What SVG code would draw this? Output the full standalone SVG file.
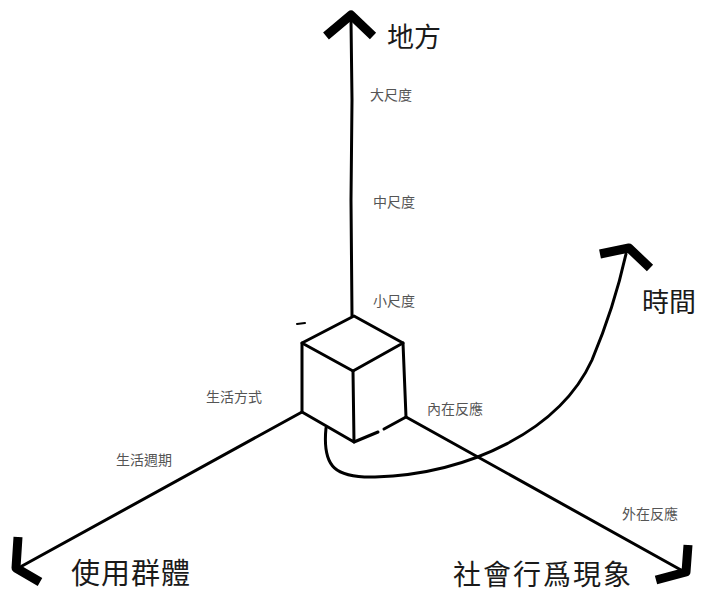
<svg xmlns="http://www.w3.org/2000/svg" width="704" height="599" viewBox="0 0 704 599">
<style>
.ax{fill:none;stroke:#000;stroke-width:3;stroke-linecap:round;stroke-linejoin:round}
.head{fill:none;stroke:#000;stroke-width:9;stroke-linecap:butt;stroke-linejoin:round}
.big{font-family:"Noto Sans CJK TC","Noto Sans CJK SC",sans-serif;font-size:26px;fill:#1a1a1a}
.small{font-family:"Noto Sans CJK TC","Noto Sans CJK SC",sans-serif;font-size:14px;fill:#555}
</style>
<rect width="704" height="599" fill="#fff"/>
<g id="connectors">
<path class="ax" d="M352 316 L351 200 L352 100 L351 20"/>
<path class="head" d="M326 36 L351 15 L373 36"/>
<path class="ax" d="M302 412 L22 566"/>
<path class="head" d="M18 537 L16 568 L40 582"/>
<path class="ax" d="M406 417 L681 570"/>
<path class="head" d="M688 545 L686 572 L656 580"/>
<path class="ax" d="M326 428 C322 468 336 478 375 477 C470 474 560 430 592 360 C608 322 618 290 626 254"/>
<path class="head" d="M600 254 L629 248 L650 268"/>
</g>
<g id="cube">
<path class="ax" d="M354 316 L302 343 L353 371 L403 343 Z"/>
<path class="ax" d="M302 343 L302 412 L354 442 L353 371"/>
<path class="ax" d="M403 343 L406 417 L384 429"/>
<path class="ax" d="M378 432 L354 442"/>
<path class="ax" d="M297 324 L305 323" style="stroke-width:2"/>
</g>
<g id="n-place"><text class="big" x="387" y="47" style="font-size:27px">地方</text></g>
<g id="n-large"><text class="small" x="370" y="100">大尺度</text></g>
<g id="n-mid"><text class="small" x="373" y="207">中尺度</text></g>
<g id="n-smallscale"><text class="small" x="373" y="306">小尺度</text></g>
<g id="n-time"><text class="big" x="642" y="312" style="font-size:27px">時間</text></g>
<g id="n-lifestyle"><text class="small" x="206" y="402">生活方式</text></g>
<g id="n-lifecycle"><text class="small" x="116" y="465">生活週期</text></g>
<g id="n-inner"><text class="small" x="427" y="414">內在反應</text></g>
<g id="n-outer"><text class="small" x="622" y="519">外在反應</text></g>
<g id="n-users"><text class="big" x="71" y="584" style="font-size:29px;letter-spacing:1px">使用群體</text></g>
<g id="n-social"><text class="big" x="453" y="585" style="font-size:28px;letter-spacing:2px">社會行爲現象</text></g>
</svg>
